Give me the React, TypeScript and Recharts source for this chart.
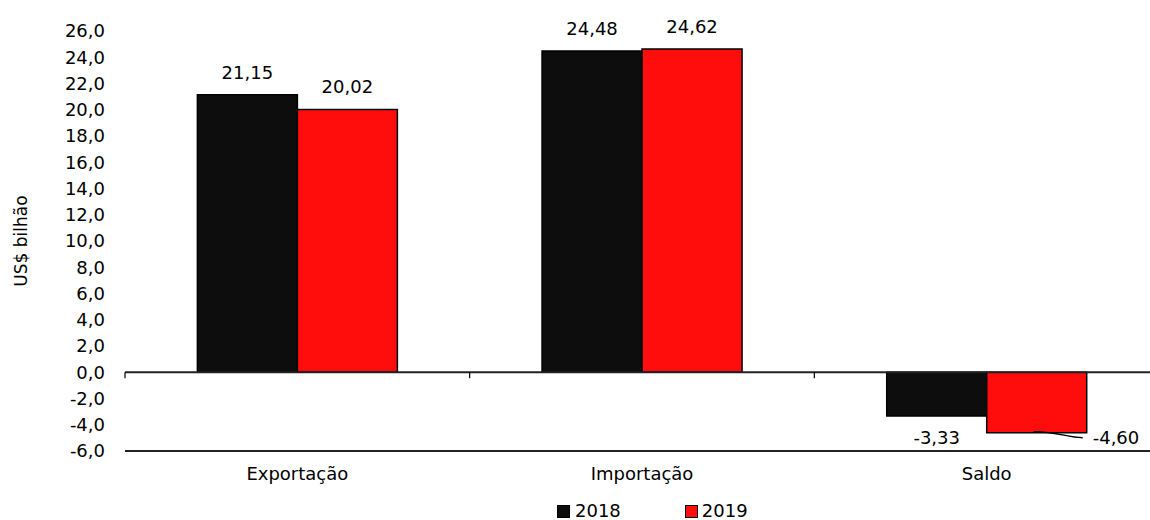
import React from "react";
import {
  BarChart,
  Bar,
  XAxis,
  YAxis,
  ReferenceLine,
  Legend,
  LabelList,
} from "recharts";

// Balança comercial, US$ bilhão
const categories = ["Exportação", "Importação", "Saldo"];
const values2018 = [21.15, 24.48, -3.33];
const values2019 = [20.02, 24.62, -4.6];
const yTicks = [-6, -4, -2, 0, 2, 4, 6, 8, 10, 12, 14, 16, 18, 20, 22, 24, 26];

const data = categories.map((name, i) => ({
  name,
  y2018: values2018[i],
  y2019: values2019[i],
}));

const FONT = "'DejaVu Sans', sans-serif";
const BLACK = "#0d0d0d";
const RED = "#ff0d0d";

const fmt1 = (v: number) => v.toFixed(1).replace(".", ",");
const fmt2 = (v: number) => v.toFixed(2).replace(".", ",");

// value labels: above positive bars, below negative ones;
// the 2019 negative bar gets its label pushed right with a leader line
const makeLabel = (leader: boolean) => (props: any) => {
  const { x, y, width, height, value } = props;
  const cx = x + width / 2;
  const top = Math.min(y, y + height);
  const bottom = Math.max(y, y + height);
  const text = fmt2(Number(value));
  if (value >= 0) {
    return (
      <text x={cx} y={top - 16} textAnchor="middle" fontSize={18} fill="#000" fontFamily={FONT}>
        {text}
      </text>
    );
  }
  if (leader) {
    const right = x + width;
    return (
      <g>
        <path
          d={`M${cx - 3},${bottom - 1} C${cx + 22},${bottom - 1} ${cx + 30},${bottom + 5} ${right - 4},${bottom + 5}`}
          fill="none"
          stroke="#000"
          strokeWidth={1.5}
        />
        <text x={right + 6} y={bottom + 11} textAnchor="start" fontSize={18} fill="#000" fontFamily={FONT}>
          {text}
        </text>
      </g>
    );
  }
  return (
    <text x={cx} y={bottom + 28} textAnchor="middle" fontSize={18} fill="#000" fontFamily={FONT}>
      {text}
    </text>
  );
};

// zero line with small downward ticks at the category borders
const ZeroLine = (props: any) => {
  const { x1, y1, x2 } = props;
  const n = categories.length;
  const step = (x2 - x1) / n;
  const ticks = [];
  for (let i = 0; i <= n; i++) {
    const tx = x1 + i * step;
    ticks.push(<line key={i} x1={tx} x2={tx} y1={y1} y2={y1 + 6} stroke="#000" strokeWidth={1.2} />);
  }
  return (
    <g>
      <line x1={x1} x2={x2} y1={y1} y2={y1} stroke="#222" strokeWidth={2} />
      {ticks}
    </g>
  );
};

const LegendContent = () => (
  <div
    style={{
      display: "flex",
      alignItems: "center",
      paddingLeft: 557,
      paddingTop: 10,
      fontFamily: FONT,
      fontSize: 18,
      lineHeight: "18px",
      color: "#000",
    }}
  >
    <span style={{ display: "inline-block", width: 11, height: 11, background: BLACK, border: "1px solid #000", marginRight: 5 }} />
    <span>2018</span>
    <span style={{ display: "inline-block", width: 11, height: 11, background: RED, border: "1.5px solid #000", marginLeft: 64, marginRight: 4 }} />
    <span>2019</span>
  </div>
);

export default function App() {
  return (
    <div
      style={{
        position: "fixed",
        left: 0,
        top: 0,
        width: 1150,
        height: 520,
        overflow: "hidden",
        background: "#fff",
      }}
    >
      <BarChart
        width={1159}
        height={520}
        data={data}
        margin={{ top: 31, right: 0, left: 0, bottom: 0 }}
        barCategoryGap="21%"
        barGap={0}
        style={{ fontFamily: FONT }}
      >
        <XAxis
          dataKey="name"
          axisLine={{ stroke: "#222", strokeWidth: 2 }}
          tickLine={false}
          tickSize={0}
          tickMargin={16}
          height={41}
          tick={{ fill: "#000", fontSize: 18, fontFamily: FONT }}
        />
        <YAxis
          width={125}
          domain={[-6, 26]}
          ticks={yTicks}
          interval={0}
          axisLine={false}
          tickLine={false}
          tickSize={0}
          tickMargin={20}
          tickFormatter={fmt1}
          tick={{ fill: "#000", fontSize: 18, fontFamily: FONT }}
          label={{
            value: "US$ bilhão",
            angle: -90,
            position: "insideLeft",
            offset: 21,
            style: { textAnchor: "middle", fontSize: 17, fill: "#000", fontFamily: FONT },
          }}
        />
        <Legend verticalAlign="bottom" height={28} content={<LegendContent />} />
        <Bar dataKey="y2018" name="2018" fill={BLACK} stroke="#000" strokeWidth={1.5} isAnimationActive={false}>
          <LabelList dataKey="y2018" content={makeLabel(false)} />
        </Bar>
        <Bar dataKey="y2019" name="2019" fill={RED} stroke="#000" strokeWidth={1.5} isAnimationActive={false}>
          <LabelList dataKey="y2019" content={makeLabel(true)} />
        </Bar>
        <ReferenceLine y={0} shape={<ZeroLine />} ifOverflow="visible" />
      </BarChart>
    </div>
  );
}
